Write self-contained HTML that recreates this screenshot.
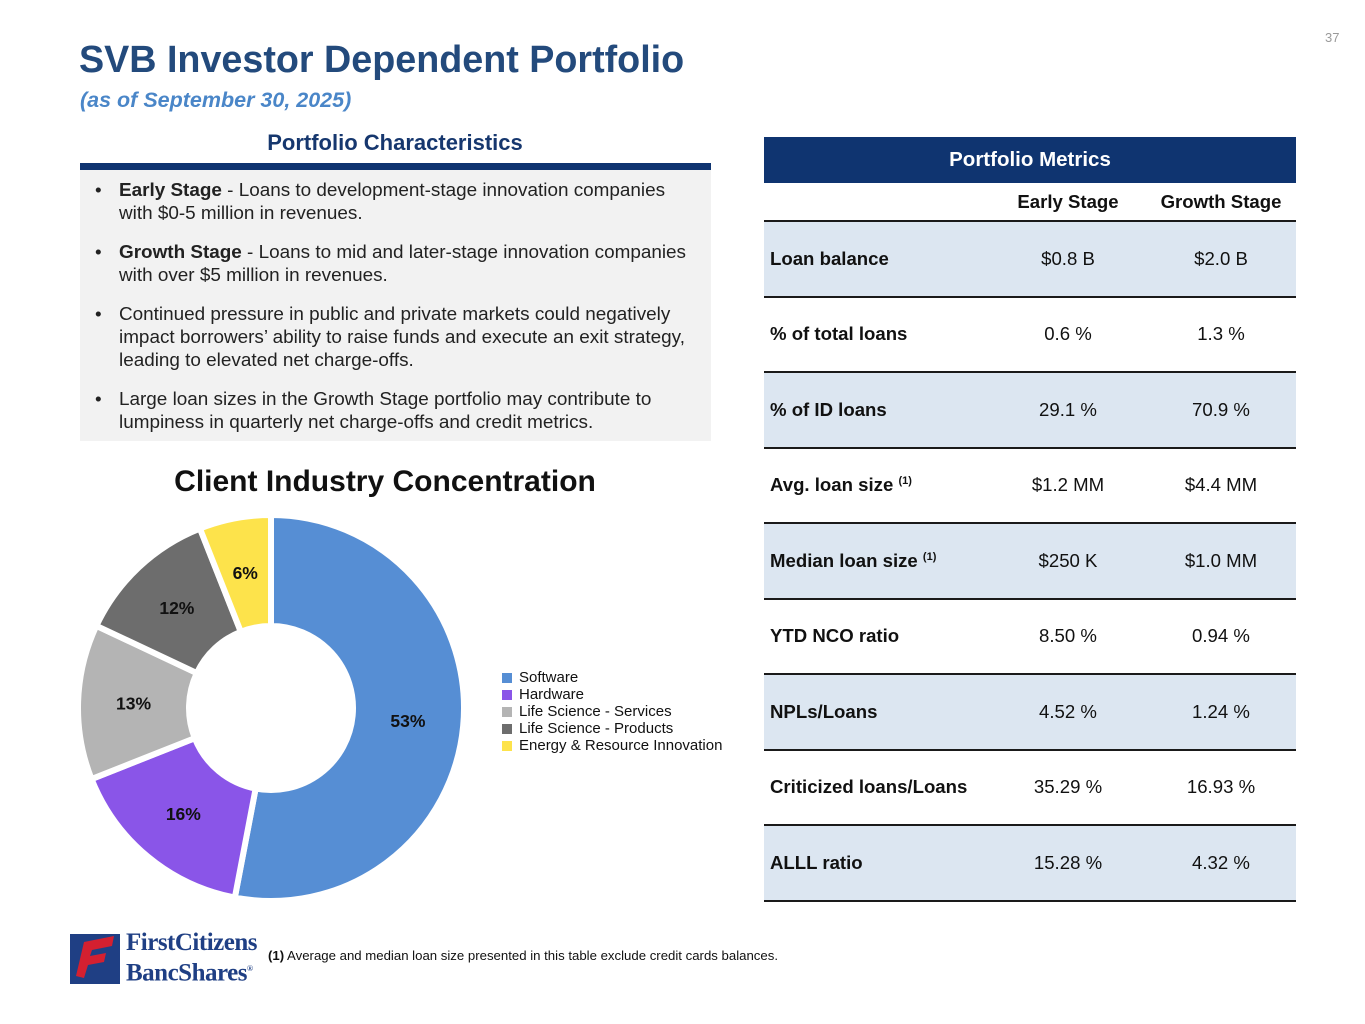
<!DOCTYPE html>
<html><head><meta charset="utf-8">
<style>
body{margin:0;width:1365px;height:1024px;background:#fff;font-family:"Liberation Sans",Arial,sans-serif;position:relative;overflow:hidden}
.a{position:absolute}
.title{left:79px;top:38px;font-size:37.7px;font-weight:bold;color:#234a7c}
.sub{left:80px;top:88px;font-size:21.5px;font-weight:bold;font-style:italic;color:#4a86c8}
.pg{left:1325px;top:30px;font-size:13px;color:#9a9a9a}
.ph{left:80px;width:630px;top:130px;text-align:center;font-size:22px;font-weight:bold;color:#16376e}
.bar{left:80px;top:163px;width:631px;height:7px;background:#0f3470}
.box{left:80px;top:170px;width:631px;height:271px;background:#f2f2f2}
.box ul{margin:0;padding:9px 18px 0 39px;list-style:none;font-size:18.9px;line-height:23px;color:#222}
.box li{position:relative;margin-bottom:16px}
.box li:before{content:"•";position:absolute;left:-24px}
table{position:absolute;left:764px;top:137px;width:532px;border-collapse:collapse;font-size:18.6px;color:#111}
th,td{padding:0}
th.h{background:#0f3470;color:#fff;height:46px;font-size:20.5px}
td{height:73.5px;border-bottom:2px solid #1a1a1a;text-align:center}
td.l{text-align:left;padding-left:6px;font-weight:bold}
tr.s td{height:37px;font-weight:bold}
tr.b td{background:#dce6f1}
sup{font-size:11px}
.leg{left:502px;top:669px;font-size:15px;line-height:17px;color:#111}
.leg div{display:flex;align-items:center}
.leg span{display:inline-block;width:10px;height:10px;margin-right:7px}
</style></head><body>
<div class="a title">SVB Investor Dependent Portfolio</div>
<div class="a sub">(as of September 30, 2025)</div>
<div class="a pg">37</div>
<div class="a ph">Portfolio Characteristics</div>
<div class="a bar"></div>
<div class="a box"><ul>
<li><b>Early Stage</b> - Loans to development-stage innovation companies with $0-5 million in revenues.</li>
<li><b>Growth Stage</b> - Loans to mid and later-stage innovation companies with over $5 million in revenues.</li>
<li>Continued pressure in public and private markets could negatively impact borrowers’ ability to raise funds and execute an exit strategy, leading to elevated net charge-offs.</li>
<li>Large loan sizes in the Growth Stage portfolio may contribute to lumpiness in quarterly net charge-offs and credit metrics.</li>
</ul></div>
<table>
<tr><th class="h" colspan="3">Portfolio Metrics</th></tr>
<tr class="s"><td style="width:226px"></td><td style="width:156px">Early Stage</td><td>Growth Stage</td></tr>
<tr class="b"><td class="l">Loan balance</td><td>$0.8 B</td><td>$2.0 B</td></tr>
<tr><td class="l">% of total loans</td><td>0.6 %</td><td>1.3 %</td></tr>
<tr class="b"><td class="l">% of ID loans</td><td>29.1 %</td><td>70.9 %</td></tr>
<tr><td class="l">Avg. loan size <sup>(1)</sup></td><td>$1.2 MM</td><td>$4.4 MM</td></tr>
<tr class="b"><td class="l">Median loan size <sup>(1)</sup></td><td>$250 K</td><td>$1.0 MM</td></tr>
<tr><td class="l">YTD NCO ratio</td><td>8.50 %</td><td>0.94 %</td></tr>
<tr class="b"><td class="l">NPLs/Loans</td><td>4.52 %</td><td>1.24 %</td></tr>
<tr><td class="l">Criticized loans/Loans</td><td>35.29 %</td><td>16.93 %</td></tr>
<tr class="b"><td class="l">ALLL ratio</td><td>15.28 %</td><td>4.32 %</td></tr>
</table>
<div class="a" style="left:60px;width:650px;top:465px;text-align:center;font-size:30px;font-weight:bold;color:#111">Client Industry Concentration</div>
<svg class="a" style="left:0;top:0" width="720" height="920" id="donut"></svg>
<div class="a leg" id="leg"></div>
<div class="a" style="left:70px;top:930px;width:180px;height:56px">
<svg width="54" height="54" style="position:absolute;left:0;top:2px"><rect x="0" y="2" width="50" height="50" fill="#1f3f84"/><path d="M6 44 L14 10 L44 4 L42 14 L22 18 L20 24 L36 21 L34 30 L18 33 L14 46Z" fill="#d42030"/></svg>
<div style="position:absolute;left:56px;top:0;font-family:'Liberation Serif',serif;color:#1f3f84;font-size:25px;line-height:26px;font-weight:bold;letter-spacing:-0.5px">FirstCitizens<br>BancShares<sup style="font-size:8px">®</sup></div>
</div>
<div class="a" style="left:268px;top:948px;font-size:13.2px;color:#111"><b>(1)</b> Average and median loan size presented in this table exclude credit cards balances.</div>
<script>
const categories=["Software","Hardware","Life Science - Services","Life Science - Products","Energy & Resource Innovation"];
const values=[53,16,13,12,6];
const colors=["#568ed4","#8a55e8","#b4b4b4","#6d6d6d","#fde34b"];
const svg=document.getElementById('donut');
const NS="http://www.w3.org/2000/svg";
const cx=271,cy=708,R=193,r=82;
const total=values.reduce((a,b)=>a+b,0);
function pt(a,rad){return [cx+rad*Math.sin(a),cy-rad*Math.cos(a)];}
let acc=0;
values.forEach((v,i)=>{
 const a0=acc/total*2*Math.PI,a1=(acc+v)/total*2*Math.PI;acc+=v;
 const lg=(a1-a0)>Math.PI?1:0;
 const p0=pt(a0,R),p1=pt(a1,R),q1=pt(a1,r),q0=pt(a0,r);
 const p=document.createElementNS(NS,'path');
 p.setAttribute('d',`M${p0} A${R},${R} 0 ${lg} 1 ${p1} L${q1} A${r},${r} 0 ${lg} 0 ${q0}Z`);
 p.setAttribute('fill',colors[i]);p.setAttribute('stroke','#fff');p.setAttribute('stroke-width','6');
 
 
 svg.appendChild(p);
 const m=(a0+a1)/2,lp=pt(m,(R+r)/2);
 const t=document.createElementNS(NS,'text');
 t.setAttribute('x',lp[0]);t.setAttribute('y',lp[1]+6);t.setAttribute('text-anchor','middle');
 t.setAttribute('font-size','17.5');t.setAttribute('font-weight','bold');t.setAttribute('fill','#111');
 t.setAttribute('font-family','Liberation Sans, sans-serif');
 t.textContent=v+'%';
 
 
 svg.appendChild(t);
});
const leg=document.getElementById('leg');
categories.forEach((c,i)=>{
 const d=document.createElement('div');
 
 
 d.innerHTML=`<span style="background:${colors[i]}"></span>${c}`;
 leg.appendChild(d);
});
</script>
</body></html>
